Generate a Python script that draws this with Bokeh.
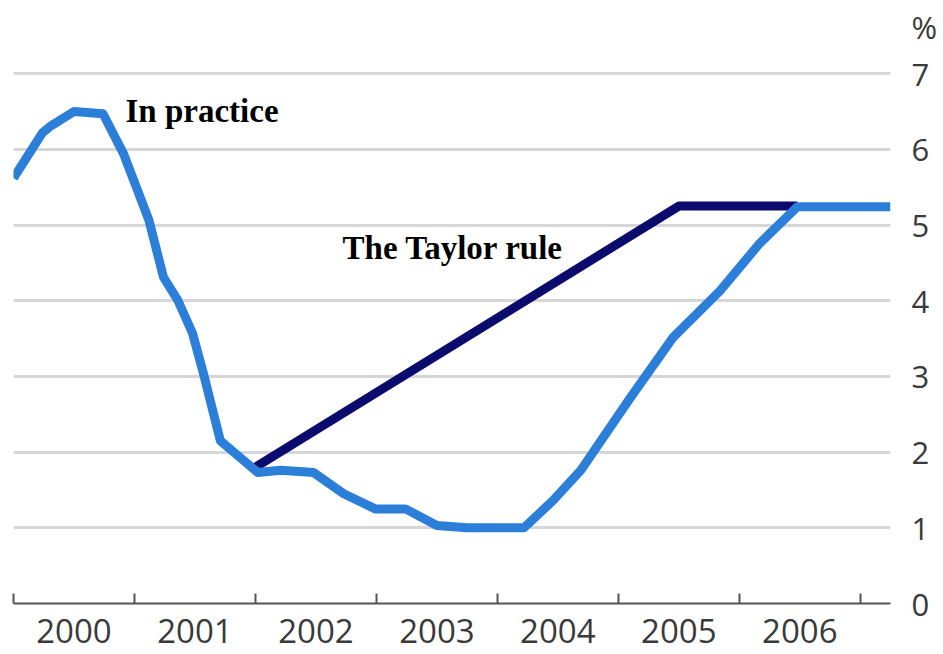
from bokeh.plotting import figure
from bokeh.models import Range1d, FixedTicker, Label
from bokeh.embed import file_html
from bokeh.resources import INLINE

# Data
practice_x = [2000.0, 2000.24, 2000.31, 2000.5, 2000.74, 2000.91, 2001.02, 2001.12,
              2001.24, 2001.36, 2001.48, 2001.57, 2001.71, 2001.85, 2002.02, 2002.21,
              2002.48, 2002.73, 2002.99, 2003.24, 2003.5, 2003.75, 2004.22, 2004.46,
              2004.69, 2005.1, 2005.45, 2005.84, 2006.17, 2006.48, 2007.25]
practice_y = [5.62, 6.22, 6.31, 6.5, 6.47, 5.94, 5.48, 5.06,
              4.31, 4.0, 3.57, 3.04, 2.15, 1.96, 1.73, 1.76,
              1.73, 1.45, 1.25, 1.25, 1.03, 1.0, 1.0, 1.36,
              1.76, 2.72, 3.51, 4.13, 4.76, 5.24, 5.24]

taylor_x = [2002.0, 2005.5, 2006.48]
taylor_y = [1.8, 5.25, 5.25]

year_labels = ["2000", "2001", "2002", "2003", "2004", "2005", "2006"]
year_bounds = [2000, 2001, 2002, 2003, 2004, 2005, 2006, 2007]
y_ticks = [0, 1, 2, 3, 4, 5, 6, 7]
unit_label = "%"
unit_pos = 7.61

p = figure(width=943, height=654, output_backend="svg", toolbar_location=None,
           x_range=Range1d(2000, 2007.25), y_range=Range1d(0, 7.966),
           y_axis_location="right", min_border_left=13, min_border_right=53,
           min_border_top=0, min_border_bottom=51)
p.outline_line_color = None
p.background_fill_color = "white"
p.border_fill_color = "white"

# x axis: labels at mid-years, tick marks at year boundaries
mids = [int(y) + 0.5 for y in year_labels]
p.xaxis.ticker = FixedTicker(ticks=mids, minor_ticks=year_bounds)
p.xaxis.major_label_overrides = {m: lab for m, lab in zip(mids, year_labels)}
p.xaxis.major_tick_in = 0
p.xaxis.major_tick_out = 0
p.xaxis.minor_tick_in = 10
p.xaxis.minor_tick_out = 0
p.xaxis.minor_tick_line_color = "#555555"
p.xaxis.minor_tick_line_width = 2
p.xaxis.axis_line_color = "#555555"
p.xaxis.axis_line_width = 2
p.xaxis.major_label_text_font = "Open Sans"
p.xaxis.major_label_text_font_size = "33px"
p.xaxis.major_label_text_color = "#3a3a3a"
p.xaxis.major_label_standoff = 15

# y axis on the right, with the unit sign above the top tick
p.yaxis.ticker = FixedTicker(ticks=y_ticks + [unit_pos])
p.yaxis.major_label_overrides = {unit_pos: unit_label}
p.yaxis.axis_line_color = None
p.yaxis.major_tick_line_color = None
p.yaxis.minor_tick_line_color = None
p.yaxis.major_label_text_font = "Open Sans"
p.yaxis.major_label_text_font_size = "31px"
p.yaxis.major_label_text_color = "#3a3a3a"
p.yaxis.major_label_standoff = 15

p.xgrid.grid_line_color = None
p.ygrid.ticker = FixedTicker(ticks=y_ticks[1:])
p.ygrid.grid_line_color = "#d6d6d6"
p.ygrid.grid_line_width = 3

p.line(taylor_x, taylor_y, line_color="#0b0b6e", line_width=9, line_join="round")
p.line(practice_x, practice_y, line_color="#2b7fd8", line_width=9, line_join="round")

p.add_layout(Label(x=2000.926, y=6.50, text="In practice", text_font="Liberation Serif",
                   text_font_style="bold", text_font_size="33px", text_color="black",
                   text_baseline="alphabetic"))
p.add_layout(Label(x=2002.72, y=4.70, text="The Taylor rule", text_font="Liberation Serif",
                   text_font_style="bold", text_font_size="33px", text_color="black",
                   text_baseline="alphabetic"))

open("out.html", "w").write(file_html(p, INLINE))
